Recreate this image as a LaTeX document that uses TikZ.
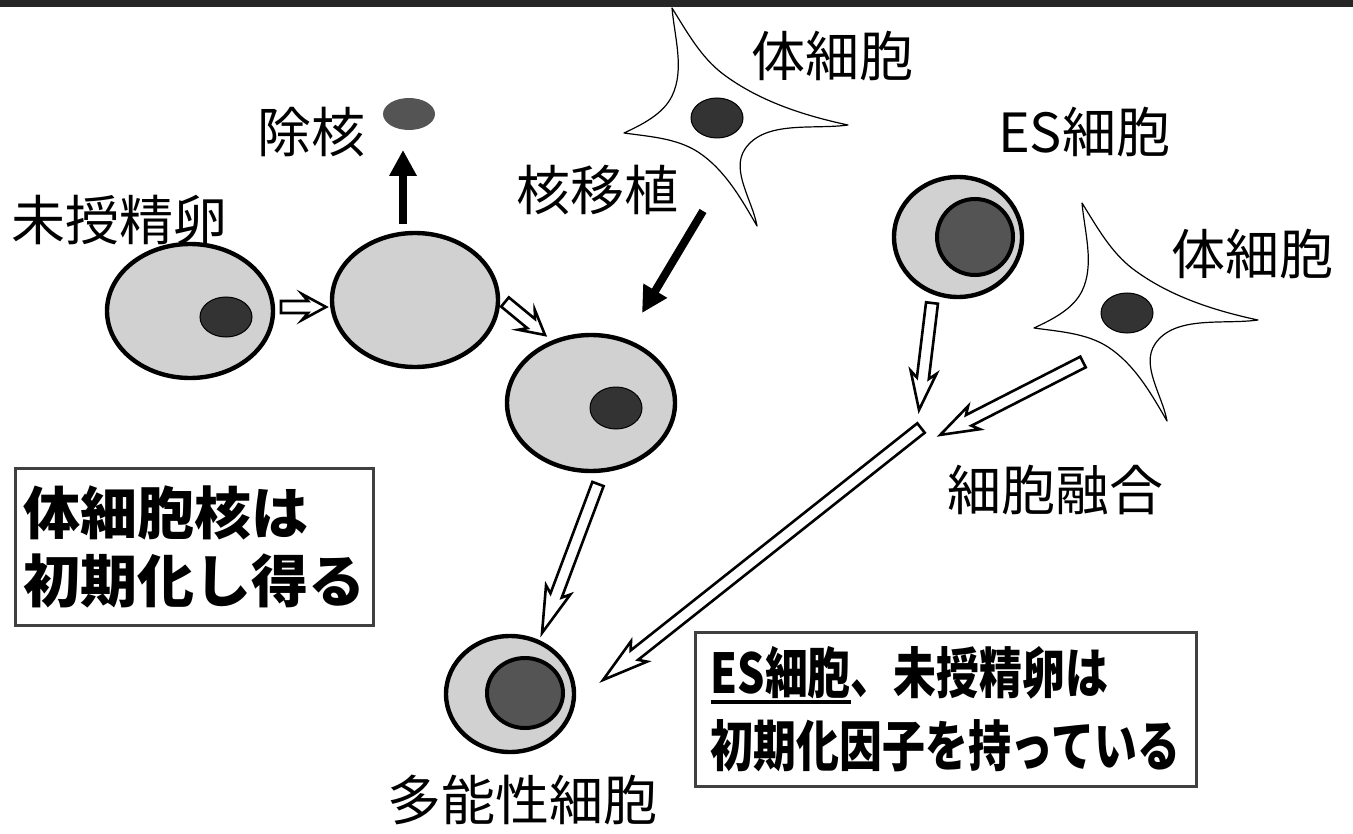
\documentclass[tikz,border=0pt]{standalone}
\usepackage{fontspec}
\usetikzlibrary{shapes.geometric,arrows.meta,calc,positioning}
\newfontfamily\jp{Noto Sans CJK JP}
\newfontfamily\jpnarrow[FakeStretch=0.78]{Noto Sans CJK JP}

\definecolor{cyto}{gray}{0.82}
\definecolor{nuc}{gray}{0.2}
\definecolor{esnuc}{gray}{0.33}
\definecolor{frame}{gray}{0.25}

% open block arrow from #2 to #3, #1 = head length
\newcommand{\hollowarrow}[3][16pt]{%
  \draw[hollow] let \p1=($(#3)-(#2)$), \n1={atan2(\y1,\x1)}, \n2={veclen(\x1,\y1)} in
    [shift={(#2)}, rotate=\n1] (0pt,-3pt) -- ({\n2-#1},-3pt) -- ({\n2-#1-3pt},-6.5pt)
    -- (\n2,0pt) -- ({\n2-#1-3pt},6.5pt) -- ({\n2-#1},3pt) -- (0pt,3pt) -- cycle;}

% thick underline
\newcommand{\esline}[1]{\setbox0\hbox{#1}\rlap{\rule[-5.5pt]{\wd0}{2pt}}\box0}

\tikzset{
  egg/.style = {ellipse, draw=black, line width=2.2pt, fill=cyto, inner sep=0pt},
  nucleus/.style = {ellipse, draw=black, line width=0.5pt, fill=nuc, inner sep=0pt,
    minimum width=26pt, minimum height=20pt},
  esnucleus/.style = {ellipse, draw=black, line width=2pt, fill=esnuc, inner sep=0pt},
  hollow/.style = {draw=black, fill=white, line width=1.3pt, line join=miter},
  solidarrow/.style = {line width=4pt, -{Triangle[length=13pt,width=13pt]}},
  lbl/.style = {font=\jp\fontsize{27}{32}\selectfont, inner sep=0pt},
  box/.style = {draw=frame, line width=1.5pt, inner sep=0pt},
  soma/.pic = {
    \begin{scope}[y=0.5pt, looseness=0.85]
    \draw[fill=white, line width=0.6pt, line join=round]
      (-45,110) to[out=-58,in=143] (6,44) to[out=-37,in=168] (131,-7)
      to[out=188,in=56] (28,-31) to[out=236,in=100] (40,-108)
      to[out=120,in=-33] (-19,-34) to[out=147,in=-8] (-93,-15)
      to[out=25,in=244] (-45,22) to[out=64,in=275] (-45,110) -- cycle;
    \end{scope}
    \node[nucleus] (-nuc) at (0,0) {};
  }
}

\begin{document}
\begin{tikzpicture}[x=0.5pt, y=-0.5pt]
\useasboundingbox (0,0) rectangle (1353,834);
\fill[black!85] (0,0) rectangle (1353,7);

% unfertilised egg and the enucleated egg
\node[egg, minimum width=83pt, minimum height=67pt] (egg1) at (190,311) {};
\node[nucleus] (n1) at (226,317) {};
\node[egg, minimum width=83pt, minimum height=67pt] (egg2) at (415,300) {};
\node[ellipse, fill=esnuc, inner sep=0pt, minimum width=26pt, minimum height=16pt] (oldnuc) at (409,114) {};
\node[egg, minimum width=84pt, minimum height=68pt] (egg3) at (591,403) {};
\node[nucleus, minimum height=21pt] (n3) at (616,408) {};

% somatic cells
\pic (soma1) at (717,118) {soma};
\pic (soma2) at (1127,313) {soma};

% ES cell and pluripotent cell
\node[egg, minimum width=64pt, minimum height=60pt] (es) at (958,237) {};
\node[esnucleus, minimum width=38pt, minimum height=38pt] (esn) at (975,237) {};
\node[egg, minimum width=64pt, minimum height=58pt] (pluri) at (510,694) {};
\node[esnucleus, minimum width=38pt, minimum height=35pt] (plurin) at (525,693) {};

% labels
\node[lbl] (lunf) at (119,220) {未授精卵};
\node[lbl] (lenuc) at (311,132) {除核};
\node[lbl] (lsoma1) at (832,56) {体細胞};
\node[lbl] (ltrans) at (597,190) {核移植};
\node[lbl] (les) at (1084,132) {ES細胞};
\node[lbl] (lsoma2) at (1252,254) {体細胞};
\node[lbl] (lfuse) at (1055,490) {細胞融合};
\node[lbl] (lpluri) at (522,800) {多能性細胞};

% arrow ends
\coordinate (a1s) at (281,307);  \coordinate (a1e) at (326,307);
\coordinate (a2s) at (505,302);  \coordinate (a2e) at (545,335);
\coordinate (upS) at (403,224);  \coordinate (upE) at (403,150);
\coordinate (trS) at (703,211);  \coordinate (trE) at (642,313);
\coordinate (b1s) at (598,484);  \coordinate (b1e) at (542,633);
\coordinate (b2s) at (932,303);  \coordinate (b2e) at (919,410);
\coordinate (b3s) at (1083,362); \coordinate (b3e) at (940,435);
\coordinate (b4s) at (921,428);  \coordinate (b4e) at (603,680);

\hollowarrow[9pt]{a1s}{a1e}
\hollowarrow[9pt]{a2s}{a2e}
\draw[solidarrow] (upS) -- (upE);
\draw[solidarrow] (trS) -- (trE);
\hollowarrow[20pt]{b1s}{b1e}
\hollowarrow[16pt]{b2s}{b2e}
\hollowarrow[16pt]{b3s}{b3e}
\hollowarrow[20pt]{b4s}{b4e}

% boxed statements
\node[box, minimum width=179pt, minimum height=78.5pt, align=left,
  font=\jp\bfseries\fontsize{28.5}{34}\selectfont] (box1) at (194,546.5)
  {体細胞核は\\初期化し得る};
\node[box, minimum width=250.5pt, minimum height=77pt, align=left,
  font=\jpnarrow\bfseries\fontsize{27.5}{36.5}\selectfont] (box2) at (945.5,709)
  {\esline{ES細胞}、未授精卵は\\初期化因子を持っている};
\end{tikzpicture}
\end{document}
